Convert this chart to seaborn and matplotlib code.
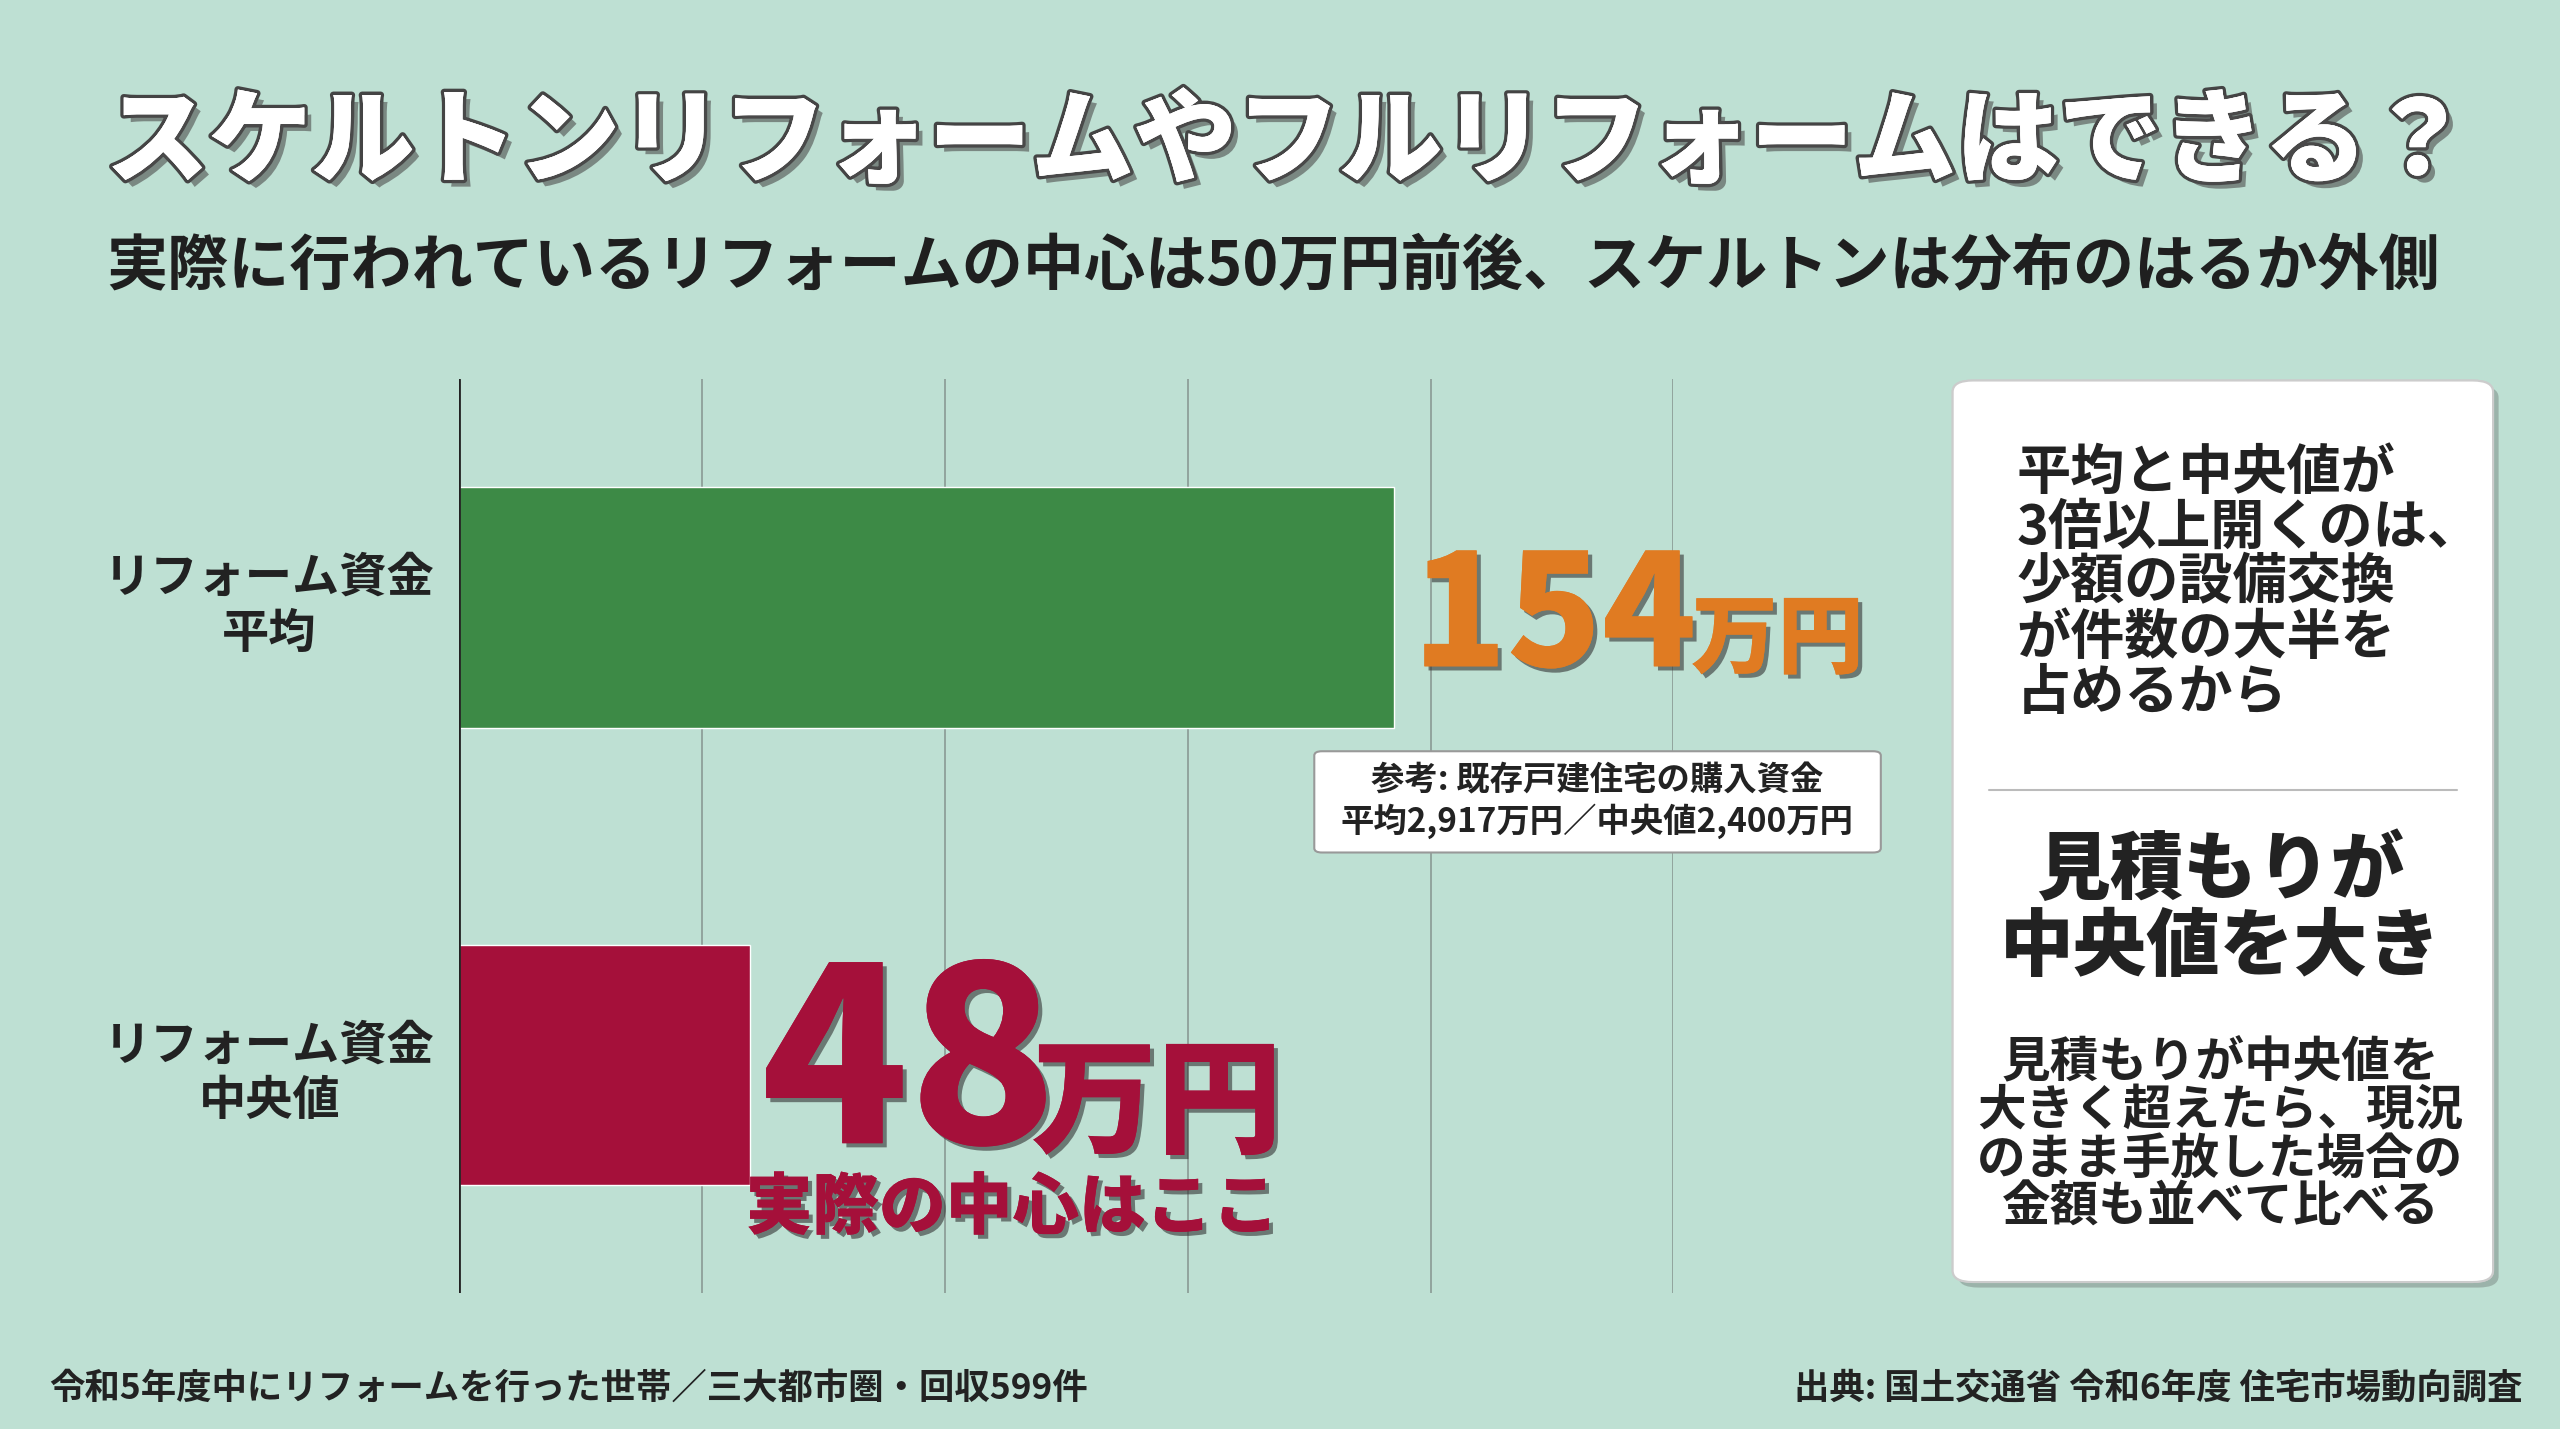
import matplotlib
matplotlib.use("Agg")
import matplotlib.pyplot as plt
import matplotlib.patheffects as pe
from matplotlib.patches import FancyBboxPatch
import seaborn as sns
import pandas as pd

categories = ["リフォーム資金\n平均", "リフォーム資金\n中央値"]
values = [154, 48]
colors = ["#3d8a46", "#a5103a"]

sns.set_theme(style="white")
FONT = ['Noto Sans CJK JP', 'DejaVu Sans']
plt.rcParams['font.family'] = FONT
BG = "#bee0d3"

W, H = 1568, 875
def fx(x): return x / W
def fy(y): return 1 - y / H

fig = plt.figure(figsize=(25.6, 14.29), dpi=100, facecolor=BG)
ax = fig.add_axes([fx(281), fy(792), fx(1025) - fx(281), (792 - 232) / H])
ax.set_facecolor(BG)
df = pd.DataFrame({"cat": categories, "val": values})
sns.barplot(data=df, x="val", y="cat", hue="cat", palette=colors, orient="h",
            width=0.525, legend=False, ax=ax, saturation=1)
ax.set_xlim(0, 200)
ax.set_ylim(1.5, -0.5)
ax.set_xticks([0, 40, 80, 120, 160, 200])
ax.grid(axis="x", color="#8a9a94", lw=1.2)
ax.set_axisbelow(True)
for s in ax.spines.values():
    s.set_visible(False)
ax.axvline(0, color="#222", lw=2)
ax.set_xticklabels([]); ax.set_yticklabels([])
ax.set_xlabel(""); ax.set_ylabel("")
ax.tick_params(length=0)

sh = [pe.withSimplePatchShadow(offset=(3, -3), shadow_rgbFace="#333", alpha=0.6), pe.Normal()]
fig.text(fx(65), fy(88), "スケルトンリフォームやフルリフォームはできる？", fontsize=74,
         fontweight="heavy", color="white", va="center", ha="left",
         path_effects=[pe.withStroke(linewidth=5, foreground="#444"), pe.withSimplePatchShadow(offset=(5, -5), alpha=0.6), pe.Normal()])
fig.text(fx(65), fy(163), "実際に行われているリフォームの中心は50万円前後、スケルトンは分布のはるか外側",
         fontsize=44, fontweight="bold", color="#1f1f1f", va="center", ha="left")

for cat, y in zip(categories, [371, 657]):
    fig.text(fx(165), fy(y), cat, fontsize=34, fontweight="bold", color="#222",
             ha="center", va="center", linespacing=1.2)

fig.text(fx(865), fy(408), f"{values[0]}", fontsize=112, fontweight="heavy",
         color="#e07b22", va="baseline", ha="left", path_effects=sh)
fig.text(fx(1036), fy(408), "万円", fontsize=62, fontweight="heavy",
         color="#e07b22", va="baseline", ha="left", path_effects=sh)
fig.patches.append(FancyBboxPatch((fx(805), fy(522)), fx(1152) - fx(805), (522 - 460) / H,
                                  boxstyle="round,pad=0,rounding_size=0.003",
                                  transform=fig.transFigure, fc="white", ec="#999", lw=1.5))
fig.text(fx(978), fy(491), "参考: 既存戸建住宅の購入資金\n平均2,917万円／中央値2,400万円",
         fontsize=24, fontweight="bold", color="#222", ha="center", va="center", linespacing=1.2)

fig.text(fx(466), fy(700), f"{values[1]}", fontsize=175, fontweight="heavy",
         color="#a5103a", va="baseline", ha="left", path_effects=sh)
fig.text(fx(632), fy(700), "万円", fontsize=90, fontweight="heavy",
         color="#a5103a", va="baseline", ha="left", path_effects=sh)
fig.text(fx(620), fy(740), "実際の中心はここ", fontsize=48, fontweight="heavy",
         color="#a5103a", ha="center", va="center", path_effects=sh)

fig.patches.append(FancyBboxPatch((fx(1196), fy(785)), fx(1527) - fx(1196), (785 - 233) / H,
                                  boxstyle="round,pad=0,rounding_size=0.008",
                                  transform=fig.transFigure, fc="white", ec="#ccc", lw=1.5,
                                  path_effects=[pe.withSimplePatchShadow(offset=(4, -4), alpha=0.3), pe.Normal()]))
fig.text(fx(1235), fy(357), "平均と中央値が\n3倍以上開くのは、\n少額の設備交換\nが件数の大半を\n占めるから",
         fontsize=39, fontweight="bold", color="#222", ha="left", va="center", linespacing=1.0)
fig.add_artist(plt.Line2D([fx(1218), fx(1505)], [fy(484), fy(484)], color="#bbb", lw=1.5,
                          transform=fig.transFigure))
fig.text(fx(1360), fy(557), "見積もりが\n中央値を大き", fontsize=53, fontweight="heavy",
         color="#222", ha="center", va="center", linespacing=1.05)
fig.text(fx(1360), fy(695), "見積もりが中央値を\n大きく超えたら、現況\nのまま手放した場合の\n金額も並べて比べる",
         fontsize=35, fontweight="bold", color="#222", ha="center", va="center", linespacing=0.98)

fig.text(fx(30), fy(850), "令和5年度中にリフォームを行った世帯／三大都市圏・回収599件",
         fontsize=25.5, fontweight="bold", color="#222", ha="left", va="center")
fig.text(fx(1545), fy(850), "出典: 国土交通省 令和6年度 住宅市場動向調査",
         fontsize=25.5, fontweight="bold", color="#222", ha="right", va="center")

fig.savefig("out.png", dpi=100, facecolor=BG)
